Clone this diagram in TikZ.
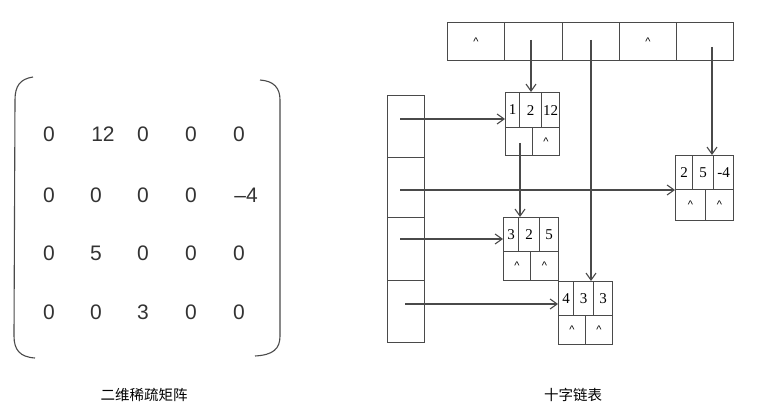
\documentclass[tikz,border=0pt]{standalone}
\usepackage{fontspec}
\setmainfont{Liberation Serif}
\newfontfamily\cjk{Noto Sans CJK SC}
\newfontfamily\matf{Liberation Sans}
\usetikzlibrary{arrows.meta}
\definecolor{ln}{HTML}{4A4A4A}
\tikzset{
  cell/.style={draw=ln, line width=1.1pt, inner sep=0pt, anchor=north west, font=\fontsize{15}{15}\selectfont},
  caret/.style={cell, font=\matf\fontsize{11}{11}\selectfont},
  arr/.style={draw=ln, line width=1.1pt, -{Straight Barb[length=7pt,width=10pt,line width=1.1pt]}},
  paren/.style={draw=ln, line width=1.1pt},
  ent/.style={font=\matf\fontsize{21}{21}\selectfont, text=black!80},
  captext/.style={font=\cjk\fontsize{14.5}{14.5}\selectfont}
}
\begin{document}
\begin{tikzpicture}[x=1pt,y=-1pt]
\useasboundingbox (0,0) rectangle (757,419);
% header row
\node[caret, minimum width=57pt, minimum height=38pt] (h1) at (447,22) {\textasciicircum};
\node[cell, minimum width=58pt, minimum height=38pt] (h2) at (504,22) {};
\node[cell, minimum width=57pt, minimum height=38pt] (h3) at (562,22) {};
\node[caret, minimum width=57pt, minimum height=38pt] (h4) at (619,22) {\textasciicircum};
\node[cell, minimum width=57pt, minimum height=38pt] (h5) at (676,22) {};
% left column
\node[cell, minimum width=37pt, minimum height=62pt] (r1) at (387,95) {};
\node[cell, minimum width=37pt, minimum height=60pt] (r2) at (387,157) {};
\node[cell, minimum width=37pt, minimum height=63pt] (r3) at (387,217) {};
\node[cell, minimum width=37pt, minimum height=62pt] (r4) at (387,280) {};
% node A (1,2,12)
\node[cell, minimum width=14pt, minimum height=35pt] (A1) at (505,92) {1};
\node[cell, minimum width=22pt, minimum height=35pt] (A2) at (519,92) {2};
\node[cell, minimum width=18pt, minimum height=35pt] (A3) at (541,92) {12};
\node[cell, minimum width=27pt, minimum height=28pt] (A4) at (505,127) {};
\node[caret, minimum width=27pt, minimum height=28pt] (A5) at (532,127) {\textasciicircum};
% node B (3,2,5)
\node[cell, minimum width=15pt, minimum height=34pt] (B1) at (503,217) {3};
\node[cell, minimum width=21pt, minimum height=34pt] (B2) at (518,217) {2};
\node[cell, minimum width=19pt, minimum height=34pt] (B3) at (539,217) {5};
\node[caret, minimum width=27pt, minimum height=29pt] (B4) at (503,251) {\textasciicircum};
\node[caret, minimum width=28pt, minimum height=29pt] (B5) at (530,251) {\textasciicircum};
% node C (4,3,3)
\node[cell, minimum width=15pt, minimum height=34pt] (C1) at (558,281) {4};
\node[cell, minimum width=20pt, minimum height=34pt] (C2) at (573,281) {3};
\node[cell, minimum width=19pt, minimum height=34pt] (C3) at (593,281) {3};
\node[caret, minimum width=27pt, minimum height=29pt] (C4) at (558,315) {\textasciicircum};
\node[caret, minimum width=27pt, minimum height=29pt] (C5) at (585,315) {\textasciicircum};
% node D (2,5,-4)
\node[cell, minimum width=17pt, minimum height=34pt] (D1) at (675,155) {2};
\node[cell, minimum width=21pt, minimum height=34pt] (D2) at (692,155) {5};
\node[cell, minimum width=20pt, minimum height=34pt] (D3) at (713,155) {-4};
\node[caret, minimum width=30pt, minimum height=31pt] (D4) at (675,189) {\textasciicircum};
\node[caret, minimum width=28pt, minimum height=31pt] (D5) at (705,189) {\textasciicircum};
% connector start points
\coordinate (s1) at (400,119);
\coordinate (s2) at (400,190);
\coordinate (s3) at (400,239);
\coordinate (s4) at (405,304);
\coordinate (v2) at (531,40);
\coordinate (v3) at (591,40);
\coordinate (v5) at (712,47);
\coordinate (va) at (520,143);
\draw[arr] (s1) -- (s1 -| A1.west);
\draw[arr] (s2) -- (s2 -| D4.west);
\draw[arr] (s3) -- (s3 -| B1.west);
\draw[arr] (s4) -- (s4 -| C1.west);
\draw[arr] (v2) -- (v2 |- A2.north);
\draw[arr] (v3) -- (v3 |- C3.north);
\draw[arr] (v5) -- (v5 |- D3.north);
\draw[arr] (va) -- (va |- B2.north);
% matrix parentheses
\draw[paren] (33,77) .. controls (20,79) and (15,86) .. (15,100) -- (14,336) .. controls (14,350) and (20,357) .. (35,358);
\draw[paren] (260,80) .. controls (274,81) and (280,88) .. (280,100) -- (280,336) .. controls (280,349) and (273,355) .. (255,356);
% matrix entries
\node[ent] (m11) at (49,134) {0};
\node[ent] (m12) at (103,134) {12};
\node[ent] (m13) at (143,134) {0};
\node[ent] (m14) at (191,134) {0};
\node[ent] (m15) at (239,134) {0};
\node[ent] (m21) at (49,195) {0};
\node[ent] (m22) at (96,195) {0};
\node[ent] (m23) at (143,195) {0};
\node[ent] (m24) at (191,195) {0};
\node[ent] (m25) at (246,195) {–4};
\node[ent] (m31) at (49,253) {0};
\node[ent] (m32) at (96,253) {5};
\node[ent] (m33) at (143,253) {0};
\node[ent] (m34) at (191,253) {0};
\node[ent] (m35) at (239,253) {0};
\node[ent] (m41) at (49,312) {0};
\node[ent] (m42) at (96,312) {0};
\node[ent] (m43) at (143,312) {3};
\node[ent] (m44) at (191,312) {0};
\node[ent] (m45) at (239,312) {0};
% captions
\node[captext] (c1) at (144,395) {二维稀疏矩阵};
\node[captext] (c2) at (573,395) {十字链表};
\end{tikzpicture}
\end{document}
